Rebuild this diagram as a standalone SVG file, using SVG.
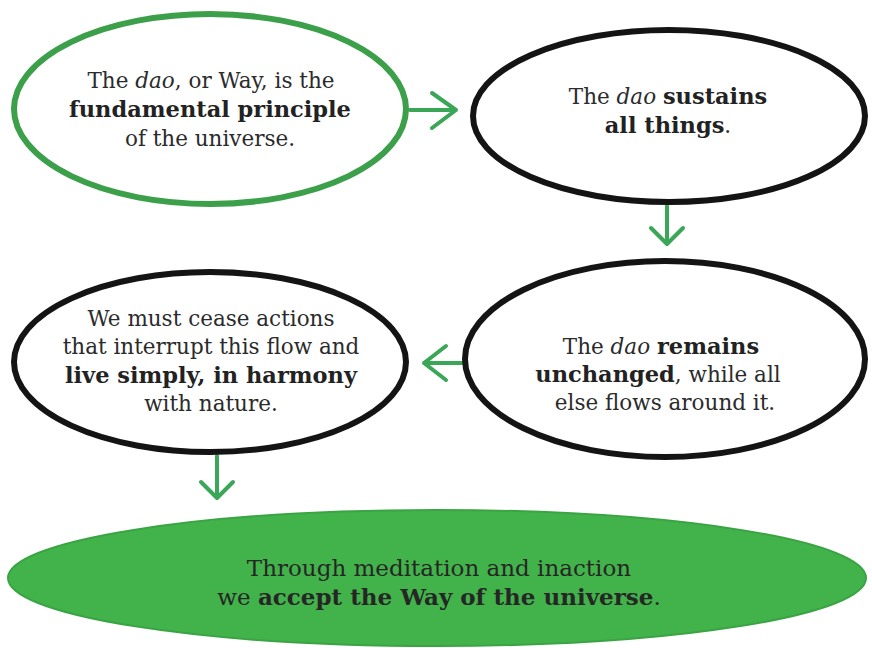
<svg xmlns="http://www.w3.org/2000/svg" width="872" height="648" viewBox="0 0 872 648">
<defs>
<style>
.t{font-family:"DejaVu Serif","Liberation Serif",serif;font-size:21.5px;fill:#2b2b2b;text-anchor:middle}
.b{font-weight:bold;fill:#222;font-size:22.5px}
.i{font-style:italic}
.outline{fill:#fff;stroke:#141414;stroke-width:6}
.green{fill:#fff;stroke:#3c9f49;stroke-width:6}
.arr{fill:none;stroke:#3aa657;stroke-width:4;stroke-linecap:round;stroke-linejoin:round}
.bt{font-family:"DejaVu Serif","Liberation Serif",serif;font-size:23px;fill:#262626;text-anchor:middle}
</style>
</defs>
<rect width="872" height="648" fill="#fff"/>
<g id="connectors">
<path class="arr" d="M410 110 H456 M432 93 L456 110 L432 128"/>
<path class="arr" d="M667 206 V244 M651 228 L667 244 L683 228"/>
<path class="arr" d="M466 363 H424 M446 346 L424 363 L446 380"/>
<path class="arr" d="M217 456 V498 M201 482 L217 498 L233 482"/>
</g>
<g id="node1">
<ellipse class="green" cx="210" cy="109" rx="196" ry="95"/>
<text class="t" x="211" y="88">The <tspan class="i">dao</tspan>, or Way, is the</text>
<text class="t b" x="210" y="117">fundamental principle</text>
<text class="t" x="210" y="146">of the universe.</text>
</g>
<g id="node2">
<ellipse class="outline" cx="669" cy="116" rx="196" ry="86"/>
<text class="t" x="668" y="104">The <tspan class="i">dao</tspan> <tspan class="b">sustains</tspan></text>
<text class="t" x="668" y="133"><tspan class="b">all things</tspan>.</text>
</g>
<g id="node3">
<ellipse class="outline" cx="665" cy="359" rx="200" ry="98"/>
<text class="t" x="661" y="354">The <tspan class="i">dao</tspan> <tspan class="b">remains</tspan></text>
<text class="t" x="658" y="382"><tspan class="b">unchanged</tspan>, while all</text>
<text class="t" x="665" y="410">else flows around it.</text>
</g>
<g id="node4">
<ellipse class="outline" cx="210" cy="362" rx="196" ry="90"/>
<text class="t" x="211" y="326">We must cease actions</text>
<text class="t" x="211" y="354">that interrupt this flow and</text>
<text class="t b" x="211" y="383">live simply, in harmony</text>
<text class="t" x="211" y="411">with nature.</text>
</g>
<g id="node5">
<ellipse cx="437" cy="578" rx="429" ry="68" fill="#42b34a" stroke="#3aa444" stroke-width="2"/>
<text class="bt" x="439" y="576">Through meditation and inaction</text>
<text class="bt" x="439" y="605">we <tspan font-weight="bold">accept the Way of the universe</tspan>.</text>
</g>
</svg>
